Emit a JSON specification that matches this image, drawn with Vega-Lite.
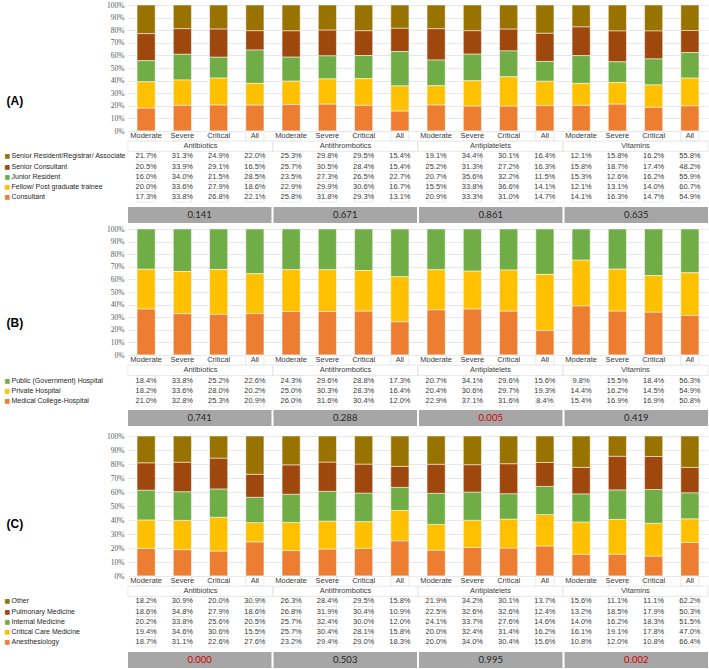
{
"$schema": "https://vega.github.io/schema/vega-lite/v6.json",
"padding": {"left": 4, "top": 1, "right": 0, "bottom": 0},
"autosize": {"type": "pad"},
"background": "white",
"config": {"view": {"stroke": null}},
"resolve": {"scale": {"color": "independent"}},
"datasets": {
"A": [
{"c":"Antibiotics","s":"Moderate","Senior Resident/Registrar/ Associate":0.217,"Senior Consultant":0.205,"Junior Resident":0.160,"Fellow/ Post graduate trainee":0.200,"Consultant":0.173},
{"c":"Antibiotics","s":"Severe","Senior Resident/Registrar/ Associate":0.313,"Senior Consultant":0.339,"Junior Resident":0.340,"Fellow/ Post graduate trainee":0.336,"Consultant":0.338},
{"c":"Antibiotics","s":"Critical","Senior Resident/Registrar/ Associate":0.249,"Senior Consultant":0.291,"Junior Resident":0.215,"Fellow/ Post graduate trainee":0.279,"Consultant":0.268},
{"c":"Antibiotics","s":"All","Senior Resident/Registrar/ Associate":0.220,"Senior Consultant":0.165,"Junior Resident":0.285,"Fellow/ Post graduate trainee":0.186,"Consultant":0.221},
{"c":"Antithrombotics","s":"Moderate","Senior Resident/Registrar/ Associate":0.253,"Senior Consultant":0.257,"Junior Resident":0.235,"Fellow/ Post graduate trainee":0.229,"Consultant":0.258},
{"c":"Antithrombotics","s":"Severe","Senior Resident/Registrar/ Associate":0.298,"Senior Consultant":0.305,"Junior Resident":0.273,"Fellow/ Post graduate trainee":0.299,"Consultant":0.318},
{"c":"Antithrombotics","s":"Critical","Senior Resident/Registrar/ Associate":0.295,"Senior Consultant":0.284,"Junior Resident":0.265,"Fellow/ Post graduate trainee":0.306,"Consultant":0.293},
{"c":"Antithrombotics","s":"All","Senior Resident/Registrar/ Associate":0.154,"Senior Consultant":0.154,"Junior Resident":0.227,"Fellow/ Post graduate trainee":0.167,"Consultant":0.131},
{"c":"Antiplatelets","s":"Moderate","Senior Resident/Registrar/ Associate":0.191,"Senior Consultant":0.252,"Junior Resident":0.207,"Fellow/ Post graduate trainee":0.155,"Consultant":0.209},
{"c":"Antiplatelets","s":"Severe","Senior Resident/Registrar/ Associate":0.344,"Senior Consultant":0.313,"Junior Resident":0.356,"Fellow/ Post graduate trainee":0.338,"Consultant":0.333},
{"c":"Antiplatelets","s":"Critical","Senior Resident/Registrar/ Associate":0.301,"Senior Consultant":0.272,"Junior Resident":0.322,"Fellow/ Post graduate trainee":0.366,"Consultant":0.310},
{"c":"Antiplatelets","s":"All","Senior Resident/Registrar/ Associate":0.164,"Senior Consultant":0.163,"Junior Resident":0.115,"Fellow/ Post graduate trainee":0.141,"Consultant":0.147},
{"c":"Vitamins","s":"Moderate","Senior Resident/Registrar/ Associate":0.121,"Senior Consultant":0.158,"Junior Resident":0.153,"Fellow/ Post graduate trainee":0.121,"Consultant":0.141},
{"c":"Vitamins","s":"Severe","Senior Resident/Registrar/ Associate":0.158,"Senior Consultant":0.187,"Junior Resident":0.126,"Fellow/ Post graduate trainee":0.131,"Consultant":0.163},
{"c":"Vitamins","s":"Critical","Senior Resident/Registrar/ Associate":0.162,"Senior Consultant":0.174,"Junior Resident":0.162,"Fellow/ Post graduate trainee":0.140,"Consultant":0.147},
{"c":"Vitamins","s":"All","Senior Resident/Registrar/ Associate":0.558,"Senior Consultant":0.482,"Junior Resident":0.559,"Fellow/ Post graduate trainee":0.607,"Consultant":0.549}
],
"B": [
{"c":"Antibiotics","s":"Moderate","Public (Government) Hospital":0.184,"Private Hospital":0.182,"Medical College-Hospital":0.210},
{"c":"Antibiotics","s":"Severe","Public (Government) Hospital":0.338,"Private Hospital":0.336,"Medical College-Hospital":0.328},
{"c":"Antibiotics","s":"Critical","Public (Government) Hospital":0.252,"Private Hospital":0.280,"Medical College-Hospital":0.253},
{"c":"Antibiotics","s":"All","Public (Government) Hospital":0.226,"Private Hospital":0.202,"Medical College-Hospital":0.209},
{"c":"Antithrombotics","s":"Moderate","Public (Government) Hospital":0.243,"Private Hospital":0.250,"Medical College-Hospital":0.260},
{"c":"Antithrombotics","s":"Severe","Public (Government) Hospital":0.296,"Private Hospital":0.303,"Medical College-Hospital":0.316},
{"c":"Antithrombotics","s":"Critical","Public (Government) Hospital":0.288,"Private Hospital":0.283,"Medical College-Hospital":0.304},
{"c":"Antithrombotics","s":"All","Public (Government) Hospital":0.173,"Private Hospital":0.164,"Medical College-Hospital":0.120},
{"c":"Antiplatelets","s":"Moderate","Public (Government) Hospital":0.207,"Private Hospital":0.204,"Medical College-Hospital":0.229},
{"c":"Antiplatelets","s":"Severe","Public (Government) Hospital":0.341,"Private Hospital":0.306,"Medical College-Hospital":0.371},
{"c":"Antiplatelets","s":"Critical","Public (Government) Hospital":0.296,"Private Hospital":0.297,"Medical College-Hospital":0.316},
{"c":"Antiplatelets","s":"All","Public (Government) Hospital":0.156,"Private Hospital":0.193,"Medical College-Hospital":0.084},
{"c":"Vitamins","s":"Moderate","Public (Government) Hospital":0.098,"Private Hospital":0.144,"Medical College-Hospital":0.154},
{"c":"Vitamins","s":"Severe","Public (Government) Hospital":0.155,"Private Hospital":0.162,"Medical College-Hospital":0.169},
{"c":"Vitamins","s":"Critical","Public (Government) Hospital":0.184,"Private Hospital":0.145,"Medical College-Hospital":0.169},
{"c":"Vitamins","s":"All","Public (Government) Hospital":0.563,"Private Hospital":0.549,"Medical College-Hospital":0.508}
],
"C": [
{"c":"Antibiotics","s":"Moderate","Other":0.182,"Pulmonary Medicine":0.186,"Internal Medicine":0.202,"Critical Care Medicine":0.194,"Anesthesiology":0.187},
{"c":"Antibiotics","s":"Severe","Other":0.309,"Pulmonary Medicine":0.348,"Internal Medicine":0.338,"Critical Care Medicine":0.346,"Anesthesiology":0.311},
{"c":"Antibiotics","s":"Critical","Other":0.200,"Pulmonary Medicine":0.279,"Internal Medicine":0.256,"Critical Care Medicine":0.306,"Anesthesiology":0.226},
{"c":"Antibiotics","s":"All","Other":0.309,"Pulmonary Medicine":0.186,"Internal Medicine":0.205,"Critical Care Medicine":0.155,"Anesthesiology":0.276},
{"c":"Antithrombotics","s":"Moderate","Other":0.263,"Pulmonary Medicine":0.268,"Internal Medicine":0.257,"Critical Care Medicine":0.257,"Anesthesiology":0.232},
{"c":"Antithrombotics","s":"Severe","Other":0.284,"Pulmonary Medicine":0.319,"Internal Medicine":0.324,"Critical Care Medicine":0.304,"Anesthesiology":0.294},
{"c":"Antithrombotics","s":"Critical","Other":0.295,"Pulmonary Medicine":0.304,"Internal Medicine":0.300,"Critical Care Medicine":0.281,"Anesthesiology":0.290},
{"c":"Antithrombotics","s":"All","Other":0.158,"Pulmonary Medicine":0.109,"Internal Medicine":0.120,"Critical Care Medicine":0.158,"Anesthesiology":0.183},
{"c":"Antiplatelets","s":"Moderate","Other":0.219,"Pulmonary Medicine":0.225,"Internal Medicine":0.241,"Critical Care Medicine":0.200,"Anesthesiology":0.200},
{"c":"Antiplatelets","s":"Severe","Other":0.342,"Pulmonary Medicine":0.326,"Internal Medicine":0.337,"Critical Care Medicine":0.324,"Anesthesiology":0.340},
{"c":"Antiplatelets","s":"Critical","Other":0.301,"Pulmonary Medicine":0.326,"Internal Medicine":0.276,"Critical Care Medicine":0.314,"Anesthesiology":0.304},
{"c":"Antiplatelets","s":"All","Other":0.137,"Pulmonary Medicine":0.124,"Internal Medicine":0.146,"Critical Care Medicine":0.162,"Anesthesiology":0.156},
{"c":"Vitamins","s":"Moderate","Other":0.156,"Pulmonary Medicine":0.132,"Internal Medicine":0.140,"Critical Care Medicine":0.161,"Anesthesiology":0.108},
{"c":"Vitamins","s":"Severe","Other":0.111,"Pulmonary Medicine":0.185,"Internal Medicine":0.162,"Critical Care Medicine":0.191,"Anesthesiology":0.120},
{"c":"Vitamins","s":"Critical","Other":0.111,"Pulmonary Medicine":0.179,"Internal Medicine":0.183,"Critical Care Medicine":0.178,"Anesthesiology":0.108},
{"c":"Vitamins","s":"All","Other":0.622,"Pulmonary Medicine":0.503,"Internal Medicine":0.515,"Critical Care Medicine":0.470,"Anesthesiology":0.664}
],
"P": [
{"panel":"A","c":"Antibiotics","p":0.141},{"panel":"A","c":"Antithrombotics","p":0.671},{"panel":"A","c":"Antiplatelets","p":0.861},{"panel":"A","c":"Vitamins","p":0.635},
{"panel":"B","c":"Antibiotics","p":0.741},{"panel":"B","c":"Antithrombotics","p":0.288},{"panel":"B","c":"Antiplatelets","p":0.005},{"panel":"B","c":"Vitamins","p":0.419},
{"panel":"C","c":"Antibiotics","p":0.000},{"panel":"C","c":"Antithrombotics","p":0.503},{"panel":"C","c":"Antiplatelets","p":0.995},{"panel":"C","c":"Vitamins","p":0.002}
]
},
"bounds": "flush",
"spacing": 0,
"vconcat": [
{
"width": 580, "height": 126,
"data": {"name": "A"},
"transform": [{"fold": ["Senior Resident/Registrar/ Associate","Senior Consultant","Junior Resident","Fellow/ Post graduate trainee","Consultant"], "as": ["role","v"]}],
"mark": {"type": "bar", "stroke": "white", "strokeWidth": 0.5},
"encoding": {
"x": {"field": "c", "type": "nominal", "sort": ["Antibiotics","Antithrombotics","Antiplatelets","Vitamins"], "scale": {"paddingInner": 0, "paddingOuter": 0}, "axis": null},
"xOffset": {"field": "s", "type": "nominal", "sort": ["Moderate","Severe","Critical","All"], "scale": {"paddingInner": 0.5, "paddingOuter": 0.25}},
"y": {"field": "v", "type": "quantitative", "stack": "normalize", "axis": {"title": "(A)", "titleAngle": 0, "titleX": -122, "titleY": 95, "titleAlign": "left", "titleBaseline": "middle", "titleFont": "Liberation Sans", "titleFontSize": 12, "titleFontWeight": "bold", "titleColor": "black", "format": ".0%", "values": [0,0.1,0.2,0.3,0.4,0.5,0.6,0.7,0.8,0.9,1], "labelFont": "Liberation Serif", "labelFontSize": 7.5, "labelColor": "#595959", "domain": false, "ticks": false, "labelPadding": 4, "gridColor": "#d9d9d9", "gridWidth": 0.6}},
"color": {"field": "role", "type": "nominal", "sort": ["Consultant","Fellow/ Post graduate trainee","Junior Resident","Senior Consultant","Senior Resident/Registrar/ Associate"], "scale": {"range": ["#ED7D31","#FFC000","#70AD47","#9E480E","#997300"]}, "legend": null},
"order": {"field": "role", "sort": "ascending"}
}
},
{
"width": 580, "height": 71,
"data": {"name": "A"},
"resolve": {"axis": {"y": "independent"}},
"layer": [
{
"transform": [{"fold": ["Senior Resident/Registrar/ Associate","Senior Consultant","Junior Resident","Fellow/ Post graduate trainee","Consultant"], "as": ["role","v"]}],
"mark": {"type": "rect", "fill": "white", "stroke": "#d9d9d9", "strokeWidth": 0.6},
"encoding": {
"x": {"field": "c", "type": "nominal", "sort": ["Antibiotics","Antithrombotics","Antiplatelets","Vitamins"], "scale": {"paddingInner": 0, "paddingOuter": 0}, "axis": null},
"xOffset": {"field": "s", "type": "nominal", "sort": ["Moderate","Severe","Critical","All"], "scale": {"paddingInner": 0, "paddingOuter": 0}},
"y": {"field": "role", "type": "nominal", "scale": {"domain": ["sev","cat","Senior Resident/Registrar/ Associate","Senior Consultant","Junior Resident","Fellow/ Post graduate trainee","Consultant"], "paddingInner": 0, "paddingOuter": 0}, "axis": {"orient": "left", "title": null, "domain": false, "ticks": false, "tickSize": 0, "grid": false, "labelAlign": "left", "labelPadding": 117, "labelFont": "Liberation Sans", "labelFontSize": 7, "labelColor": "#262626", "labelLimit": 200, "labelExpr": "datum.value == 'sev' || datum.value == 'cat' ? '' : datum.value"}}
}
},
{
"transform": [{"fold": ["Senior Resident/Registrar/ Associate","Senior Consultant","Junior Resident","Fellow/ Post graduate trainee","Consultant"], "as": ["role","v"]}],
"mark": {"type": "text", "font": "Liberation Sans", "fontSize": 7.5, "color": "#404040"},
"encoding": {
"x": {"field": "c", "type": "nominal", "sort": ["Antibiotics","Antithrombotics","Antiplatelets","Vitamins"], "scale": {"paddingInner": 0, "paddingOuter": 0}, "axis": null},
"xOffset": {"field": "s", "type": "nominal", "sort": ["Moderate","Severe","Critical","All"], "scale": {"paddingInner": 0, "paddingOuter": 0}},
"y": {"field": "role", "type": "nominal", "scale": {"domain": ["sev","cat","Senior Resident/Registrar/ Associate","Senior Consultant","Junior Resident","Fellow/ Post graduate trainee","Consultant"], "paddingInner": 0, "paddingOuter": 0}, "axis": {"orient": "left", "title": null, "domain": false, "ticks": false, "tickSize": 0, "grid": false, "labelAlign": "left", "labelPadding": 124, "labelFont": "DejaVu Sans", "labelFontSize": 6, "labelExpr": "datum.value == 'sev' || datum.value == 'cat' ? '' : '■'", "labelColor": {"condition": [{"test": "datum.value == 'Senior Resident/Registrar/ Associate'", "value": "#997300"}, {"test": "datum.value == 'Senior Consultant'", "value": "#9E480E"}, {"test": "datum.value == 'Junior Resident'", "value": "#70AD47"}, {"test": "datum.value == 'Fellow/ Post graduate trainee'", "value": "#FFC000"}], "value": "#ED7D31"}}},
"text": {"field": "v", "type": "quantitative", "format": ".1%"}
}
},
{
"mark": {"type": "rect", "fill": "white", "stroke": "#d9d9d9", "strokeWidth": 0.6},
"encoding": {
"x": {"field": "c", "type": "nominal", "sort": ["Antibiotics","Antithrombotics","Antiplatelets","Vitamins"], "scale": {"paddingInner": 0, "paddingOuter": 0}, "axis": null},
"xOffset": {"field": "s", "type": "nominal", "sort": ["Moderate","Severe","Critical","All"], "scale": {"paddingInner": 0, "paddingOuter": 0}},
"y": {"datum": "sev", "type": "nominal", "scale": {"domain": ["sev","cat","Senior Resident/Registrar/ Associate","Senior Consultant","Junior Resident","Fellow/ Post graduate trainee","Consultant"], "paddingInner": 0, "paddingOuter": 0}, "axis": null}
}
},
{
"mark": {"type": "text", "font": "Liberation Sans", "fontSize": 7.5, "color": "#404040"},
"encoding": {
"x": {"field": "c", "type": "nominal", "sort": ["Antibiotics","Antithrombotics","Antiplatelets","Vitamins"], "scale": {"paddingInner": 0, "paddingOuter": 0}, "axis": null},
"xOffset": {"field": "s", "type": "nominal", "sort": ["Moderate","Severe","Critical","All"], "scale": {"paddingInner": 0, "paddingOuter": 0}},
"y": {"datum": "sev", "type": "nominal", "scale": {"domain": ["sev","cat","Senior Resident/Registrar/ Associate","Senior Consultant","Junior Resident","Fellow/ Post graduate trainee","Consultant"], "paddingInner": 0, "paddingOuter": 0}, "axis": null},
"text": {"field": "s", "type": "nominal"}
}
},
{
"transform": [{"filter": "datum.s == 'Moderate'"}],
"mark": {"type": "rect", "fill": "white", "stroke": "#d9d9d9", "strokeWidth": 0.6},
"encoding": {
"x": {"field": "c", "type": "nominal", "sort": ["Antibiotics","Antithrombotics","Antiplatelets","Vitamins"], "scale": {"paddingInner": 0, "paddingOuter": 0}, "axis": null},
"y": {"datum": "cat", "type": "nominal", "scale": {"domain": ["sev","cat","Senior Resident/Registrar/ Associate","Senior Consultant","Junior Resident","Fellow/ Post graduate trainee","Consultant"], "paddingInner": 0, "paddingOuter": 0}, "axis": null}
}
},
{
"transform": [{"filter": "datum.s == 'Moderate'"}],
"mark": {"type": "text", "font": "Liberation Sans", "fontSize": 7.5, "color": "#404040"},
"encoding": {
"x": {"field": "c", "type": "nominal", "sort": ["Antibiotics","Antithrombotics","Antiplatelets","Vitamins"], "scale": {"paddingInner": 0, "paddingOuter": 0}, "axis": null},
"y": {"datum": "cat", "type": "nominal", "scale": {"domain": ["sev","cat","Senior Resident/Registrar/ Associate","Senior Consultant","Junior Resident","Fellow/ Post graduate trainee","Consultant"], "paddingInner": 0, "paddingOuter": 0}, "axis": null},
"text": {"field": "c", "type": "nominal"}
}
}
]
},
{
"width": 580, "height": 27,
"data": {"name": "P"},
"transform": [{"filter": "datum.panel == 'A'"}],
"encoding": {
"x": {"field": "c", "type": "nominal", "sort": ["Antibiotics","Antithrombotics","Antiplatelets","Vitamins"], "scale": {"paddingInner": 0.014, "paddingOuter": 0}, "axis": null},
"y": {"datum": "p", "type": "nominal", "scale": {"paddingInner": 0, "paddingOuter": 0.34375, "align": 0.4545}, "axis": null}
},
"layer": [
{"mark": {"type": "rect", "color": "#a6a6a6"}},
{"mark": {"type": "text", "font": "Lato", "fontSize": 9.5},
 "encoding": {"text": {"field": "p", "type": "quantitative", "format": ".3f"},
 "color": {"condition": {"test": "datum.p < 0.05", "value": "#d40000"}, "value": "#262626"}}}
]
},
{
"width": 580, "height": 126,
"data": {"name": "B"},
"transform": [{"fold": ["Public (Government) Hospital","Private Hospital","Medical College-Hospital"], "as": ["role","v"]}],
"mark": {"type": "bar", "stroke": "white", "strokeWidth": 0.5},
"encoding": {
"x": {"field": "c", "type": "nominal", "sort": ["Antibiotics","Antithrombotics","Antiplatelets","Vitamins"], "scale": {"paddingInner": 0, "paddingOuter": 0}, "axis": null},
"xOffset": {"field": "s", "type": "nominal", "sort": ["Moderate","Severe","Critical","All"], "scale": {"paddingInner": 0.5, "paddingOuter": 0.25}},
"y": {"field": "v", "type": "quantitative", "stack": "normalize", "axis": {"title": "(B)", "titleAngle": 0, "titleX": -122, "titleY": 93, "titleAlign": "left", "titleBaseline": "middle", "titleFont": "Liberation Sans", "titleFontSize": 12, "titleFontWeight": "bold", "titleColor": "black", "format": ".0%", "values": [0,0.1,0.2,0.3,0.4,0.5,0.6,0.7,0.8,0.9,1], "labelFont": "Liberation Serif", "labelFontSize": 7.5, "labelColor": "#595959", "domain": false, "ticks": false, "labelPadding": 4, "gridColor": "#d9d9d9", "gridWidth": 0.6}},
"color": {"field": "role", "type": "nominal", "sort": ["Medical College-Hospital","Private Hospital","Public (Government) Hospital"], "scale": {"range": ["#ED7D31","#FFC000","#70AD47"]}, "legend": null},
"order": {"field": "role", "sort": "ascending"}
}
},
{
"width": 580, "height": 51,
"data": {"name": "B"},
"resolve": {"axis": {"y": "independent"}},
"layer": [
{
"transform": [{"fold": ["Public (Government) Hospital","Private Hospital","Medical College-Hospital"], "as": ["role","v"]}],
"mark": {"type": "rect", "fill": "white", "stroke": "#d9d9d9", "strokeWidth": 0.6},
"encoding": {
"x": {"field": "c", "type": "nominal", "sort": ["Antibiotics","Antithrombotics","Antiplatelets","Vitamins"], "scale": {"paddingInner": 0, "paddingOuter": 0}, "axis": null},
"xOffset": {"field": "s", "type": "nominal", "sort": ["Moderate","Severe","Critical","All"], "scale": {"paddingInner": 0, "paddingOuter": 0}},
"y": {"field": "role", "type": "nominal", "scale": {"domain": ["sev","cat","Public (Government) Hospital","Private Hospital","Medical College-Hospital"], "paddingInner": 0, "paddingOuter": 0}, "axis": {"orient": "left", "title": null, "domain": false, "ticks": false, "tickSize": 0, "grid": false, "labelAlign": "left", "labelPadding": 117, "labelFont": "Liberation Sans", "labelFontSize": 7, "labelColor": "#262626", "labelLimit": 200, "labelExpr": "datum.value == 'sev' || datum.value == 'cat' ? '' : datum.value"}}
}
},
{
"transform": [{"fold": ["Public (Government) Hospital","Private Hospital","Medical College-Hospital"], "as": ["role","v"]}],
"mark": {"type": "text", "font": "Liberation Sans", "fontSize": 7.5, "color": "#404040"},
"encoding": {
"x": {"field": "c", "type": "nominal", "sort": ["Antibiotics","Antithrombotics","Antiplatelets","Vitamins"], "scale": {"paddingInner": 0, "paddingOuter": 0}, "axis": null},
"xOffset": {"field": "s", "type": "nominal", "sort": ["Moderate","Severe","Critical","All"], "scale": {"paddingInner": 0, "paddingOuter": 0}},
"y": {"field": "role", "type": "nominal", "scale": {"domain": ["sev","cat","Public (Government) Hospital","Private Hospital","Medical College-Hospital"], "paddingInner": 0, "paddingOuter": 0}, "axis": {"orient": "left", "title": null, "domain": false, "ticks": false, "tickSize": 0, "grid": false, "labelAlign": "left", "labelPadding": 124, "labelFont": "DejaVu Sans", "labelFontSize": 6, "labelExpr": "datum.value == 'sev' || datum.value == 'cat' ? '' : '■'", "labelColor": {"condition": [{"test": "datum.value == 'Public (Government) Hospital'", "value": "#70AD47"}, {"test": "datum.value == 'Private Hospital'", "value": "#FFC000"}], "value": "#ED7D31"}}},
"text": {"field": "v", "type": "quantitative", "format": ".1%"}
}
},
{
"mark": {"type": "rect", "fill": "white", "stroke": "#d9d9d9", "strokeWidth": 0.6},
"encoding": {
"x": {"field": "c", "type": "nominal", "sort": ["Antibiotics","Antithrombotics","Antiplatelets","Vitamins"], "scale": {"paddingInner": 0, "paddingOuter": 0}, "axis": null},
"xOffset": {"field": "s", "type": "nominal", "sort": ["Moderate","Severe","Critical","All"], "scale": {"paddingInner": 0, "paddingOuter": 0}},
"y": {"datum": "sev", "type": "nominal", "scale": {"domain": ["sev","cat","Public (Government) Hospital","Private Hospital","Medical College-Hospital"], "paddingInner": 0, "paddingOuter": 0}, "axis": null}
}
},
{
"mark": {"type": "text", "font": "Liberation Sans", "fontSize": 7.5, "color": "#404040"},
"encoding": {
"x": {"field": "c", "type": "nominal", "sort": ["Antibiotics","Antithrombotics","Antiplatelets","Vitamins"], "scale": {"paddingInner": 0, "paddingOuter": 0}, "axis": null},
"xOffset": {"field": "s", "type": "nominal", "sort": ["Moderate","Severe","Critical","All"], "scale": {"paddingInner": 0, "paddingOuter": 0}},
"y": {"datum": "sev", "type": "nominal", "scale": {"domain": ["sev","cat","Public (Government) Hospital","Private Hospital","Medical College-Hospital"], "paddingInner": 0, "paddingOuter": 0}, "axis": null},
"text": {"field": "s", "type": "nominal"}
}
},
{
"transform": [{"filter": "datum.s == 'Moderate'"}],
"mark": {"type": "rect", "fill": "white", "stroke": "#d9d9d9", "strokeWidth": 0.6},
"encoding": {
"x": {"field": "c", "type": "nominal", "sort": ["Antibiotics","Antithrombotics","Antiplatelets","Vitamins"], "scale": {"paddingInner": 0, "paddingOuter": 0}, "axis": null},
"y": {"datum": "cat", "type": "nominal", "scale": {"domain": ["sev","cat","Public (Government) Hospital","Private Hospital","Medical College-Hospital"], "paddingInner": 0, "paddingOuter": 0}, "axis": null}
}
},
{
"transform": [{"filter": "datum.s == 'Moderate'"}],
"mark": {"type": "text", "font": "Liberation Sans", "fontSize": 7.5, "color": "#404040"},
"encoding": {
"x": {"field": "c", "type": "nominal", "sort": ["Antibiotics","Antithrombotics","Antiplatelets","Vitamins"], "scale": {"paddingInner": 0, "paddingOuter": 0}, "axis": null},
"y": {"datum": "cat", "type": "nominal", "scale": {"domain": ["sev","cat","Public (Government) Hospital","Private Hospital","Medical College-Hospital"], "paddingInner": 0, "paddingOuter": 0}, "axis": null},
"text": {"field": "c", "type": "nominal"}
}
}
]
},
{
"width": 580, "height": 30,
"data": {"name": "P"},
"transform": [{"filter": "datum.panel == 'B'"}],
"encoding": {
"x": {"field": "c", "type": "nominal", "sort": ["Antibiotics","Antithrombotics","Antiplatelets","Vitamins"], "scale": {"paddingInner": 0.014, "paddingOuter": 0}, "axis": null},
"y": {"datum": "p", "type": "nominal", "scale": {"paddingInner": 0, "paddingOuter": 0.4375, "align": 0.2857}, "axis": null}
},
"layer": [
{"mark": {"type": "rect", "color": "#a6a6a6"}},
{"mark": {"type": "text", "font": "Lato", "fontSize": 9.5},
 "encoding": {"text": {"field": "p", "type": "quantitative", "format": ".3f"},
 "color": {"condition": {"test": "datum.p < 0.05", "value": "#d40000"}, "value": "#262626"}}}
]
},
{
"width": 580, "height": 140,
"data": {"name": "C"},
"transform": [
{"fold": ["Anesthesiology","Critical Care Medicine","Internal Medicine","Pulmonary Medicine","Other"], "as": ["role","v"]},
{"window": [{"op": "row_number", "as": "stackrank"}], "groupby": ["c","s"]}
],
"mark": {"type": "bar", "stroke": "white", "strokeWidth": 0.5},
"encoding": {
"x": {"field": "c", "type": "nominal", "sort": ["Antibiotics","Antithrombotics","Antiplatelets","Vitamins"], "scale": {"paddingInner": 0, "paddingOuter": 0}, "axis": null},
"xOffset": {"field": "s", "type": "nominal", "sort": ["Moderate","Severe","Critical","All"], "scale": {"paddingInner": 0.5, "paddingOuter": 0.25}},
"y": {"field": "v", "type": "quantitative", "stack": "normalize", "axis": {"title": "(C)", "titleAngle": 0, "titleX": -122, "titleY": 87, "titleAlign": "left", "titleBaseline": "middle", "titleFont": "Liberation Sans", "titleFontSize": 12, "titleFontWeight": "bold", "titleColor": "black", "format": ".0%", "values": [0,0.1,0.2,0.3,0.4,0.5,0.6,0.7,0.8,0.9,1], "labelFont": "Liberation Serif", "labelFontSize": 7.5, "labelColor": "#595959", "domain": false, "ticks": false, "labelPadding": 4, "gridColor": "#d9d9d9", "gridWidth": 0.6}},
"color": {"field": "role", "type": "nominal", "sort": ["Anesthesiology","Critical Care Medicine","Internal Medicine","Pulmonary Medicine","Other"], "scale": {"range": ["#ED7D31","#FFC000","#70AD47","#9E480E","#997300"]}, "legend": null},
"order": {"field": "stackrank", "type": "quantitative", "sort": "ascending"}
}
},
{
"width": 580, "height": 71,
"data": {"name": "C"},
"resolve": {"axis": {"y": "independent"}},
"layer": [
{
"transform": [{"fold": ["Other","Pulmonary Medicine","Internal Medicine","Critical Care Medicine","Anesthesiology"], "as": ["role","v"]}],
"mark": {"type": "rect", "fill": "white", "stroke": "#d9d9d9", "strokeWidth": 0.6},
"encoding": {
"x": {"field": "c", "type": "nominal", "sort": ["Antibiotics","Antithrombotics","Antiplatelets","Vitamins"], "scale": {"paddingInner": 0, "paddingOuter": 0}, "axis": null},
"xOffset": {"field": "s", "type": "nominal", "sort": ["Moderate","Severe","Critical","All"], "scale": {"paddingInner": 0, "paddingOuter": 0}},
"y": {"field": "role", "type": "nominal", "scale": {"domain": ["sev","cat","Other","Pulmonary Medicine","Internal Medicine","Critical Care Medicine","Anesthesiology"], "paddingInner": 0, "paddingOuter": 0}, "axis": {"orient": "left", "title": null, "domain": false, "ticks": false, "tickSize": 0, "grid": false, "labelAlign": "left", "labelPadding": 117, "labelFont": "Liberation Sans", "labelFontSize": 7, "labelColor": "#262626", "labelLimit": 200, "labelExpr": "datum.value == 'sev' || datum.value == 'cat' ? '' : datum.value"}}
}
},
{
"transform": [{"fold": ["Other","Pulmonary Medicine","Internal Medicine","Critical Care Medicine","Anesthesiology"], "as": ["role","v"]}],
"mark": {"type": "text", "font": "Liberation Sans", "fontSize": 7.5, "color": "#404040"},
"encoding": {
"x": {"field": "c", "type": "nominal", "sort": ["Antibiotics","Antithrombotics","Antiplatelets","Vitamins"], "scale": {"paddingInner": 0, "paddingOuter": 0}, "axis": null},
"xOffset": {"field": "s", "type": "nominal", "sort": ["Moderate","Severe","Critical","All"], "scale": {"paddingInner": 0, "paddingOuter": 0}},
"y": {"field": "role", "type": "nominal", "scale": {"domain": ["sev","cat","Other","Pulmonary Medicine","Internal Medicine","Critical Care Medicine","Anesthesiology"], "paddingInner": 0, "paddingOuter": 0}, "axis": {"orient": "left", "title": null, "domain": false, "ticks": false, "tickSize": 0, "grid": false, "labelAlign": "left", "labelPadding": 124, "labelFont": "DejaVu Sans", "labelFontSize": 6, "labelExpr": "datum.value == 'sev' || datum.value == 'cat' ? '' : '■'", "labelColor": {"condition": [{"test": "datum.value == 'Other'", "value": "#997300"}, {"test": "datum.value == 'Pulmonary Medicine'", "value": "#9E480E"}, {"test": "datum.value == 'Internal Medicine'", "value": "#70AD47"}, {"test": "datum.value == 'Critical Care Medicine'", "value": "#FFC000"}], "value": "#ED7D31"}}},
"text": {"field": "v", "type": "quantitative", "format": ".1%"}
}
},
{
"mark": {"type": "rect", "fill": "white", "stroke": "#d9d9d9", "strokeWidth": 0.6},
"encoding": {
"x": {"field": "c", "type": "nominal", "sort": ["Antibiotics","Antithrombotics","Antiplatelets","Vitamins"], "scale": {"paddingInner": 0, "paddingOuter": 0}, "axis": null},
"xOffset": {"field": "s", "type": "nominal", "sort": ["Moderate","Severe","Critical","All"], "scale": {"paddingInner": 0, "paddingOuter": 0}},
"y": {"datum": "sev", "type": "nominal", "scale": {"domain": ["sev","cat","Other","Pulmonary Medicine","Internal Medicine","Critical Care Medicine","Anesthesiology"], "paddingInner": 0, "paddingOuter": 0}, "axis": null}
}
},
{
"mark": {"type": "text", "font": "Liberation Sans", "fontSize": 7.5, "color": "#404040"},
"encoding": {
"x": {"field": "c", "type": "nominal", "sort": ["Antibiotics","Antithrombotics","Antiplatelets","Vitamins"], "scale": {"paddingInner": 0, "paddingOuter": 0}, "axis": null},
"xOffset": {"field": "s", "type": "nominal", "sort": ["Moderate","Severe","Critical","All"], "scale": {"paddingInner": 0, "paddingOuter": 0}},
"y": {"datum": "sev", "type": "nominal", "scale": {"domain": ["sev","cat","Other","Pulmonary Medicine","Internal Medicine","Critical Care Medicine","Anesthesiology"], "paddingInner": 0, "paddingOuter": 0}, "axis": null},
"text": {"field": "s", "type": "nominal"}
}
},
{
"transform": [{"filter": "datum.s == 'Moderate'"}],
"mark": {"type": "rect", "fill": "white", "stroke": "#d9d9d9", "strokeWidth": 0.6},
"encoding": {
"x": {"field": "c", "type": "nominal", "sort": ["Antibiotics","Antithrombotics","Antiplatelets","Vitamins"], "scale": {"paddingInner": 0, "paddingOuter": 0}, "axis": null},
"y": {"datum": "cat", "type": "nominal", "scale": {"domain": ["sev","cat","Other","Pulmonary Medicine","Internal Medicine","Critical Care Medicine","Anesthesiology"], "paddingInner": 0, "paddingOuter": 0}, "axis": null}
}
},
{
"transform": [{"filter": "datum.s == 'Moderate'"}],
"mark": {"type": "text", "font": "Liberation Sans", "fontSize": 7.5, "color": "#404040"},
"encoding": {
"x": {"field": "c", "type": "nominal", "sort": ["Antibiotics","Antithrombotics","Antiplatelets","Vitamins"], "scale": {"paddingInner": 0, "paddingOuter": 0}, "axis": null},
"y": {"datum": "cat", "type": "nominal", "scale": {"domain": ["sev","cat","Other","Pulmonary Medicine","Internal Medicine","Critical Care Medicine","Anesthesiology"], "paddingInner": 0, "paddingOuter": 0}, "axis": null},
"text": {"field": "c", "type": "nominal"}
}
}
]
},
{
"width": 580, "height": 21,
"data": {"name": "P"},
"transform": [{"filter": "datum.panel == 'C'"}],
"encoding": {
"x": {"field": "c", "type": "nominal", "sort": ["Antibiotics","Antithrombotics","Antiplatelets","Vitamins"], "scale": {"paddingInner": 0.014, "paddingOuter": 0}, "axis": null},
"y": {"datum": "p", "type": "nominal", "scale": {"paddingInner": 0, "paddingOuter": 0.15625, "align": 1}, "axis": null}
},
"layer": [
{"mark": {"type": "rect", "color": "#a6a6a6"}},
{"mark": {"type": "text", "font": "Lato", "fontSize": 9.5},
 "encoding": {"text": {"field": "p", "type": "quantitative", "format": ".3f"},
 "color": {"condition": {"test": "datum.p < 0.05", "value": "#d40000"}, "value": "#262626"}}}
]
}
]
}
